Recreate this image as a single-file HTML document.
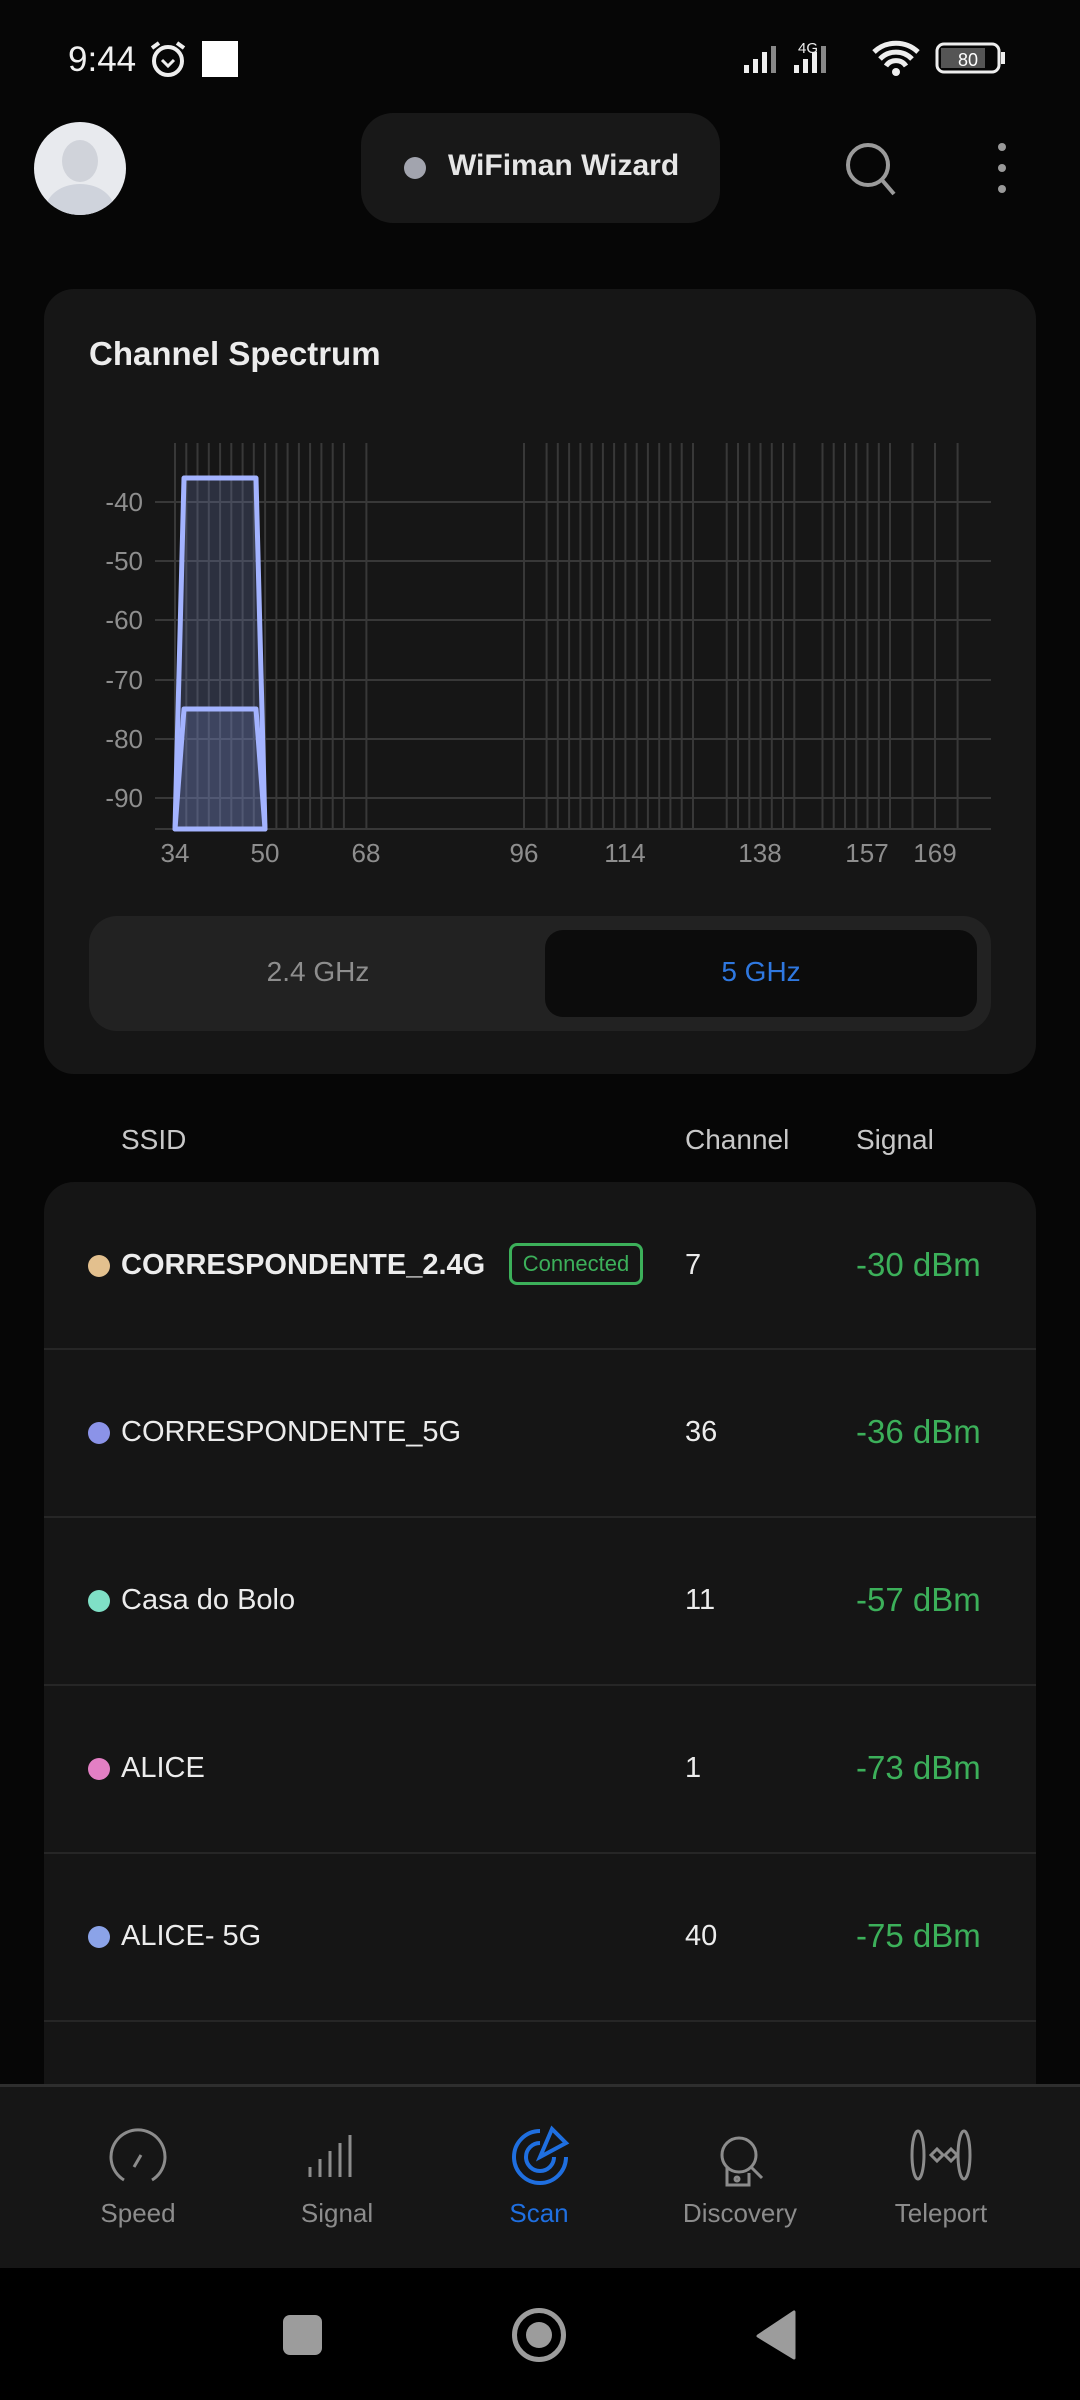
<!DOCTYPE html>
<html><head><meta charset="utf-8"><style>
*{margin:0;padding:0;box-sizing:border-box}
html,body{width:1080px;height:2400px;overflow:hidden}
body{background:#060606;position:relative;font-family:"Liberation Sans",sans-serif;color:#e8e8e8}
.a{position:absolute}
.row{position:absolute;left:44px;width:992px;height:168px;border-bottom:2px solid #262626}
.dot{position:absolute;left:44px;width:22px;height:22px;border-radius:50%}
.nm{position:absolute;left:77px;font-size:29px;line-height:34px;color:#ececec}
.ch{position:absolute;left:641px;font-size:29px;line-height:34px;color:#ececec}
.sg{position:absolute;left:812px;font-size:33px;line-height:38px;color:#3cb05a}
.nl{position:absolute;top:2198px;width:200px;text-align:center;font-size:26px;color:#8c8c8c}
</style></head><body>
<div class="a" style="left:68px;top:40px;font-size:35px;color:#f0f0f0">9:44</div>
<svg class="a" style="left:148px;top:40px" width="42" height="38" viewBox="0 0 42 38"><circle cx="20" cy="21" r="14" fill="none" stroke="#eee" stroke-width="4"/><path d="M14 20l6 6 6-6" fill="none" stroke="#eee" stroke-width="3"/><path d="M4 8l7-5M36 8l-7-5" stroke="#eee" stroke-width="4"/></svg>
<div class="a" style="left:202px;top:41px;width:36px;height:36px;background:#fff"></div>
<svg class="a" style="left:740px;top:38px" width="270" height="40" viewBox="0 0 270 40">
<g fill="#eee"><rect x="4" y="27" width="5" height="8"/><rect x="13" y="21" width="5" height="14"/><rect x="22" y="14" width="5" height="21"/><rect x="31" y="8" width="5" height="27" fill="#888"/>
<text x="58" y="15" font-size="15" font-family="Liberation Sans">4G</text>
<rect x="54" y="27" width="5" height="8"/><rect x="63" y="21" width="5" height="14"/><rect x="72" y="14" width="5" height="21"/><rect x="81" y="8" width="5" height="27" fill="#888"/></g>
<path d="M134 14a32 32 0 0 1 44 0M140 21a22 22 0 0 1 32 0M146 28a12 12 0 0 1 20 0" fill="none" stroke="#eee" stroke-width="5"/><circle cx="156" cy="34" r="4" fill="#eee"/>
<rect x="197" y="6" width="62" height="28" rx="7" fill="none" stroke="#eee" stroke-width="3"/><rect x="201" y="10" width="44" height="20" fill="#555"/><rect x="261" y="14" width="4" height="12" fill="#eee"/>
<text x="228" y="28" font-size="18" fill="#fff" text-anchor="middle" font-family="Liberation Sans">80</text></svg>
<div class="a" style="left:34px;top:122px;width:92px;height:93px;border-radius:50%;background:#e8eaee;overflow:hidden"><div class="a" style="left:28px;top:18px;width:36px;height:42px;border-radius:50%;background:#d0d3da"></div><div class="a" style="left:12px;top:62px;width:68px;height:50px;border-radius:50%;background:#cfd3dc"></div></div>
<div class="a" style="left:361px;top:113px;width:359px;height:110px;border-radius:32px;background:#181818"></div>
<div class="a" style="left:404px;top:157px;width:22px;height:22px;border-radius:50%;background:#a2a4ae"></div>
<div class="a" style="left:448px;top:149px;font-size:30px;font-weight:bold;color:#e6e6e6">WiFiman Wizard</div>
<svg class="a" style="left:840px;top:138px" width="60" height="60"><circle cx="28" cy="27" r="20" fill="none" stroke="#9a9a9a" stroke-width="4"/><path d="M42 42l12 14" stroke="#9a9a9a" stroke-width="4"/></svg>
<div class="a" style="left:998px;top:143px;width:8px;height:8px;border-radius:50%;background:#999;box-shadow:0 21px 0 #999,0 42px 0 #999"></div>
<div class="a" style="left:44px;top:289px;width:992px;height:785px;border-radius:30px;background:#161616"></div>
<div class="a" style="left:89px;top:335px;font-size:33px;font-weight:bold;color:#ececec">Channel Spectrum</div>
<svg class="a" style="left:0;top:0" width="1080" height="1100">
<g stroke="#383838" stroke-width="2">
<path d="M155 502H991M155 561H991M155 620H991M155 680H991M155 739H991M155 798H991M155 829H991"/>
<path d="M175 443V829M186.3 443V829M197.5 443V829M208.8 443V829M220.1 443V829M231.3 443V829M242.6 443V829M253.8 443V829M265.1 443V829M276.4 443V829M287.6 443V829M298.9 443V829M310.1 443V829M321.4 443V829M332.7 443V829M343.9 443V829M366.4 443V829M524 443V829M546.6 443V829M557.8 443V829M569.1 443V829M580.4 443V829M591.6 443V829M602.9 443V829M614.1 443V829M625.4 443V829M636.7 443V829M647.9 443V829M659.2 443V829M670.4 443V829M681.7 443V829M693 443V829M726.7 443V829M738 443V829M749.3 443V829M760.5 443V829M771.8 443V829M783 443V829M794.3 443V829M822.5 443V829M833.7 443V829M845 443V829M856.3 443V829M867.5 443V829M878.8 443V829M890 443V829M912.5 443V829M935 443V829M957.6 443V829"/>
</g>
<path d="M175 829L184 478H256L265 829Z" fill="rgba(125,140,210,0.22)" stroke="#a3b3ff" stroke-width="5" stroke-linejoin="round"/>
<path d="M175 829L184 709H256L265 829Z" fill="rgba(125,140,210,0.22)" stroke="#a3b3ff" stroke-width="5" stroke-linejoin="round"/>
<g fill="#8e8e8e" font-size="26" font-family="Liberation Sans" text-anchor="end">
<text x="143" y="511">-40</text><text x="143" y="570">-50</text><text x="143" y="629">-60</text><text x="143" y="689">-70</text><text x="143" y="748">-80</text><text x="143" y="807">-90</text></g>
<g fill="#8e8e8e" font-size="26" font-family="Liberation Sans" text-anchor="middle">
<text x="175" y="862">34</text><text x="265" y="862">50</text><text x="366" y="862">68</text><text x="524" y="862">96</text><text x="625" y="862">114</text><text x="760" y="862">138</text><text x="867" y="862">157</text><text x="935" y="862">169</text></g>
</svg>
<div class="a" style="left:89px;top:916px;width:902px;height:115px;border-radius:28px;background:#222"></div>
<div class="a" style="left:545px;top:930px;width:432px;height:87px;border-radius:18px;background:#0c0c0c"></div>
<div class="a" style="left:218px;top:956px;width:200px;text-align:center;font-size:28px;color:#8e8e8e">2.4 GHz</div>
<div class="a" style="left:661px;top:956px;width:200px;text-align:center;font-size:28px;color:#2f78e0">5 GHz</div>
<div class="a" style="left:121px;top:1124px;font-size:28px;color:#c8c8c8">SSID</div>
<div class="a" style="left:685px;top:1124px;font-size:28px;color:#c8c8c8">Channel</div>
<div class="a" style="left:856px;top:1124px;font-size:28px;color:#c8c8c8">Signal</div>
<div class="a" style="left:44px;top:1182px;width:992px;height:910px;border-radius:30px 30px 0 0;background:#151515"></div>
<div class="row" style="top:1182px"><div class="dot" style="top:73px;background:#e3c08e"></div><div class="nm" style="top:66px;font-weight:bold">CORRESPONDENTE_2.4G</div>
<div class="a" style="left:465px;top:61px;width:134px;height:42px;border:3px solid #3cb05a;border-radius:8px;color:#3cb05a;font-size:22px;text-align:center;line-height:36px">Connected</div>
<div class="ch" style="top:66px">7</div><div class="sg" style="top:64px">-30 dBm</div></div>
<div class="row" style="top:1350px"><div class="dot" style="top:72px;background:#8b93e8"></div><div class="nm" style="top:65px">CORRESPONDENTE_5G</div><div class="ch" style="top:65px">36</div><div class="sg" style="top:63px">-36 dBm</div></div>
<div class="row" style="top:1518px"><div class="dot" style="top:72px;background:#7fe0c6"></div><div class="nm" style="top:65px">Casa do Bolo</div><div class="ch" style="top:65px">11</div><div class="sg" style="top:63px">-57 dBm</div></div>
<div class="row" style="top:1686px"><div class="dot" style="top:72px;background:#e37fc4"></div><div class="nm" style="top:65px">ALICE</div><div class="ch" style="top:65px">1</div><div class="sg" style="top:63px">-73 dBm</div></div>
<div class="row" style="top:1854px"><div class="dot" style="top:72px;background:#8ba3e8"></div><div class="nm" style="top:65px">ALICE- 5G</div><div class="ch" style="top:65px">40</div><div class="sg" style="top:63px">-75 dBm</div></div>
<div class="a" style="left:0;top:2084px;width:1080px;height:184px;background:#161616;border-top:3px solid #2e2e2e"></div>
<svg class="a" style="left:0;top:2125px" width="1080" height="64">
<g fill="none" stroke="#8c8c8c" stroke-width="3">
<path d="M124 55A27 27 0 1 1 152 55"/><path d="M134 42l7-12"/>
<path d="M310 52v-10M320 52v-18M330 52v-26M340 52v-34M350 52v-42"/>
<path d="M722 30a17 17 0 1 1 34 0a17 17 0 1 1 -34 0M752 43l10 10M727 42v18h22v-12"/><circle cx="737" cy="54" r="2"/>
<ellipse cx="918" cy="30" rx="6" ry="24"/><ellipse cx="964" cy="30" rx="6" ry="24"/><path d="M931 30l6-6 6 6-6 6zM945 30l6-6 6 6-6 6z"/>
</g>
<g fill="none" stroke="#1f6fe0" stroke-width="4"><path d="M540 6A26 26 0 1 0 566 32"/><path d="M540 18A14 14 0 1 0 554 32"/><path d="M540 32L552 4l14 14z"/></g>
</svg>
<div class="nl" style="left:38px">Speed</div>
<div class="nl" style="left:237px">Signal</div>
<div class="nl" style="left:439px;color:#1f6fe0">Scan</div>
<div class="nl" style="left:640px">Discovery</div>
<div class="nl" style="left:841px">Teleport</div>
<div class="a" style="left:0;top:2268px;width:1080px;height:132px;background:#000"></div>
<div class="a" style="left:283px;top:2315px;width:39px;height:40px;border-radius:7px;background:#9c9c9c"></div>
<div class="a" style="left:512px;top:2308px;width:54px;height:54px;border-radius:50%;border:5px solid #9c9c9c"></div>
<div class="a" style="left:526px;top:2322px;width:26px;height:26px;border-radius:50%;background:#9c9c9c"></div>
<svg class="a" style="left:756px;top:2310px" width="42" height="50"><path d="M38 2V48L2 26Z" fill="#9c9c9c" stroke="#9c9c9c" stroke-width="3" stroke-linejoin="round"/></svg>
</body></html>
